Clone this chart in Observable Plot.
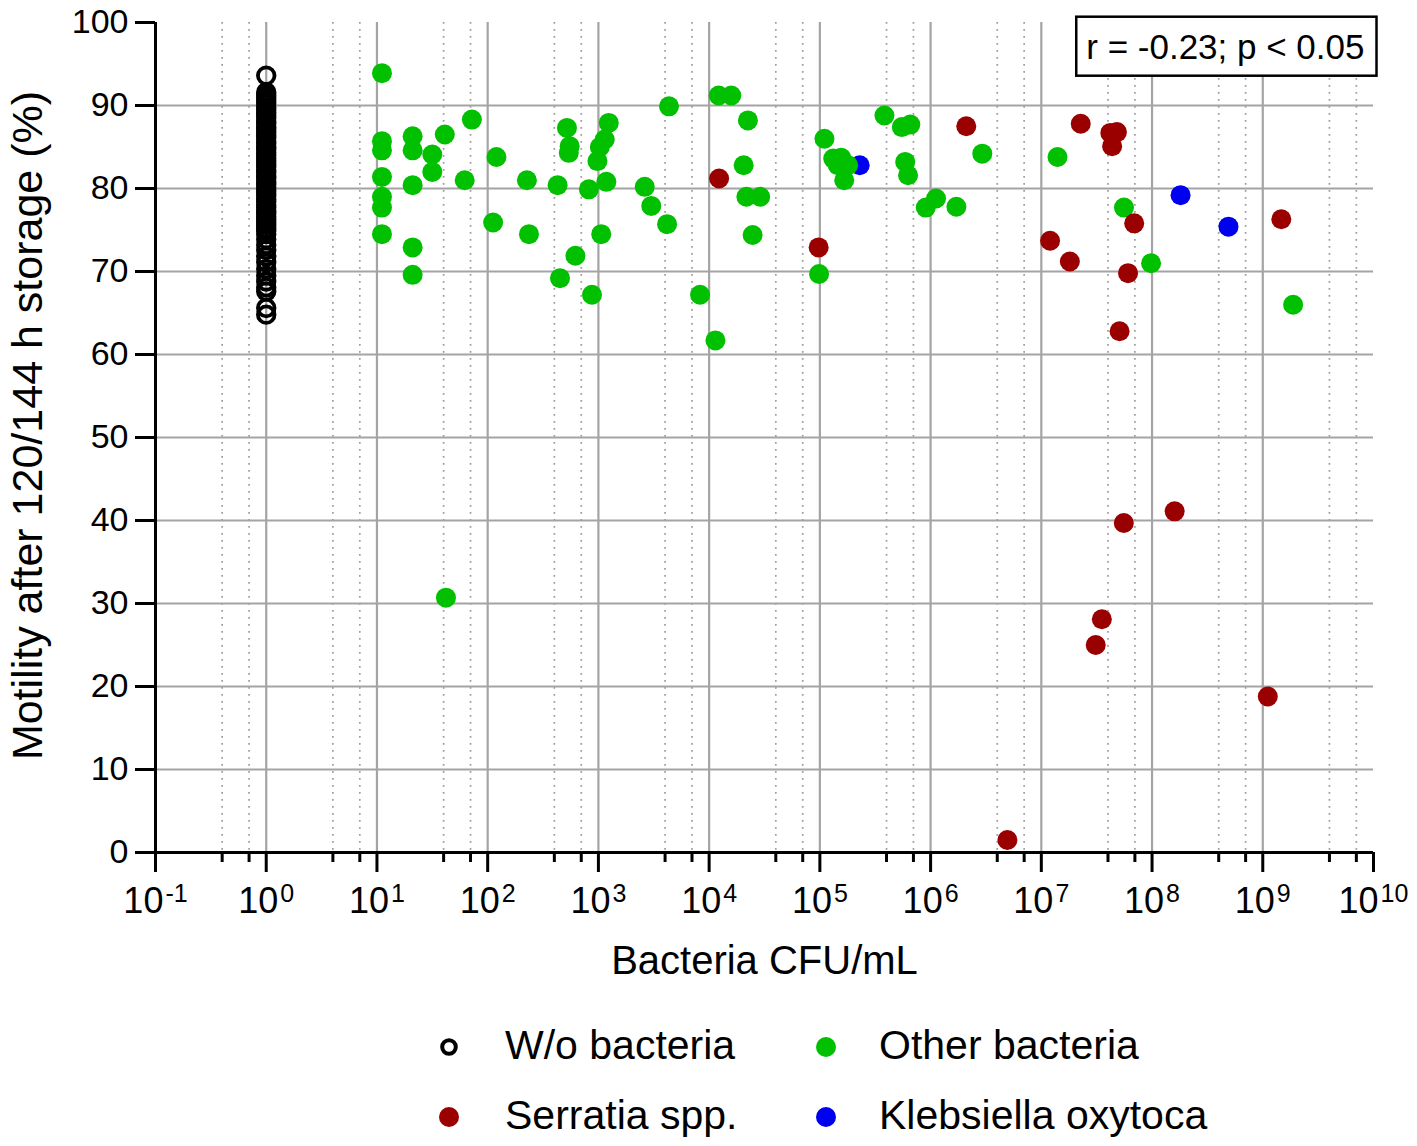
<!DOCTYPE html>
<html><head><meta charset="utf-8">
<script src="https://cdn.jsdelivr.net/npm/d3@7"></script>
<script src="https://cdn.jsdelivr.net/npm/@observablehq/plot@0.6"></script>
<style>
body{margin:0;background:#fff;font-family:"Liberation Sans",Arial,sans-serif;}
#wrap{position:relative;width:1417px;height:1146px;overflow:hidden;background:#fff;}
#legend{position:absolute;left:0;top:1000px;width:1417px;height:146px;}
.sw{position:absolute;}
.lt{position:absolute;font-size:41px;line-height:41px;color:#000;white-space:nowrap;}
</style></head><body><div id="wrap"><div id="chart"></div><div id="legend"></div></div>
<script>
// ---- data ----
const seriesNames = ["W/o bacteria", "Other bacteria", "Serratia spp.", "Klebsiella oxytoca"];
const seriesColors = ["#000000", "#00c000", "#9b0000", "#0000f0"];

// W/o bacteria: all plotted at 10^0 CFU/mL
const woCfu = 1;
const woMotility = [93.6, 91.6, 91.2, 90.9, 90.5, 90.2, 89.8, 89.5, 89.2, 88.8, 88.5, 88.1, 87.8, 87.4,
  87.1, 86.8, 86.4, 86.1, 85.7, 85.4, 85.0, 84.7, 84.3, 84.0, 83.6, 83.3, 82.9, 82.6, 82.2, 81.9, 81.5,
  81.2, 80.8, 80.5, 80.1, 79.8, 79.4, 79.1, 78.7, 78.4, 78.0, 77.7, 77.3, 77.0, 76.6, 76.3, 75.9, 75.6,
  75.2, 74.9, 74.5, 73.9, 73.2, 72.6, 71.8, 71.1, 70.3, 69.5, 68.8, 68.1, 67.6, 65.6, 64.8];

const otherCfu = [11.1, 11.1, 11.1, 11.1, 11.1, 11.1, 11.1, 21, 21, 21, 21, 21, 31.6, 31.6, 41, 42, 62, 72,
  112, 120, 226, 236, 428, 450, 520, 550, 540, 620, 820, 875, 980, 1030, 1060, 1140, 1180, 1240,
  2620, 3000, 4170, 4340, 8280, 11400, 12200, 15850, 20500, 21700, 22400, 24700, 28900,
  98400, 110000, 132000, 145000, 156000, 166000, 180000, 383000, 550000, 590000, 626000, 656000,
  905000, 1120000, 1710000, 2930000, 14000000, 55800000, 98000000, 1880000000];
const otherMotility = [93.9, 85.7, 84.6, 81.4, 79.0, 77.7, 74.5, 86.3, 84.6, 80.4, 72.9, 69.6, 84.1, 82.0, 86.5, 30.7, 81.0, 88.3,
  75.9, 83.8, 81.0, 74.5, 80.4, 69.2, 87.3, 85.1, 84.3, 71.9, 79.9, 67.2, 83.3, 85.0, 74.5, 85.9, 80.8, 87.9,
  80.2, 77.9, 75.7, 89.9, 67.2, 61.7, 91.2, 91.2, 82.8, 79.0, 88.2, 74.4, 79.0,
  69.7, 86.0, 83.6, 82.8, 83.7, 81.0, 82.8, 88.8, 87.4, 83.2, 81.6, 87.7,
  77.7, 78.8, 77.8, 84.2, 83.8, 77.7, 71.0, 66.0];

const serratiaCfu = [12300, 97500, 2100000, 4940000, 12000000, 18100000, 22700000, 31000000, 35200000,
  42000000, 43600000, 48200000, 50900000, 55600000, 60700000, 69000000, 160000000, 1110000000, 1470000000];
const serratiaMotility = [81.2, 72.9, 87.5, 1.5, 73.7, 71.2, 87.8, 25.0, 28.1,
  86.7, 85.1, 86.8, 62.8, 39.7, 69.8, 75.8, 41.1, 18.8, 76.3];

const klebsiellaCfu = [229000, 181000000, 490000000];
const klebsiellaMotility = [82.8, 79.2, 75.4];

// axis ticks
const xExponents = [-1, 0, 1, 2, 3, 4, 5, 6, 7, 8, 9, 10];
const minorMultipliers = [4, 7];
const yTicks = [0, 10, 20, 30, 40, 50, 60, 70, 80, 90, 100];
const yGrid = [10, 20, 30, 40, 50, 60, 70, 80, 90];
const xTitle = "Bacteria CFU/mL";
const yTitle = "Motility after 120/144 h storage (%)";
const statText = "r = -0.23; p < 0.05";

// ---- tables ----
const zip = (xs, ys) => xs.map((x, i) => ({cfu: x, motility: ys[i]}));
const woRows = woMotility.map(m => ({cfu: woCfu, motility: m}));
const otherRows = zip(otherCfu, otherMotility);
const serRows = zip(serratiaCfu, serratiaMotility);
const klebRows = zip(klebsiellaCfu, klebsiellaMotility);

const majorX = xExponents.map(e => 10 ** e);
const gridX = majorX.slice(1, -1);
const minorX = xExponents.slice(0, -1).flatMap(e => minorMultipliers.map(m => m * 10 ** e));

const FONT = '"Liberation Sans", Arial, sans-serif';
const MARK = "\u00A7"; // sentinel prefix for exponent labels

const plot = Plot.plot({
  width: 1417, height: 1000,
  marginLeft: 155, marginRight: 44, marginTop: 22, marginBottom: 148,
  style: {fontFamily: FONT, color: "#000", background: "#fff", overflow: "visible"},
  x: {type: "log", domain: [0.1, 1e10]},
  y: {domain: [0, 100]},
  marks: [
    Plot.ruleX(minorX, {stroke: "#9c9c9c", strokeWidth: 1.7, strokeDasharray: "1.7,5.3"}),
    Plot.ruleX(gridX, {stroke: "#a4a4a4", strokeWidth: 2.2}),
    Plot.ruleY(yGrid, {stroke: "#a4a4a4", strokeWidth: 2.2}),
    Plot.axisY(yTicks, {tickSize: 20, tickPadding: 7, strokeWidth: 3, fontSize: 34, label: null}),
    Plot.axisX(majorX, {tickSize: 20, strokeWidth: 3, tickFormat: () => "", label: null}),
    Plot.axisX(minorX, {tickSize: 10, strokeWidth: 3, tickFormat: () => "", label: null}),
    Plot.ruleX([0.1], {stroke: "#000", strokeWidth: 3}),
    Plot.ruleY([0], {stroke: "#000", strokeWidth: 3}),
    Plot.dot(woRows, {x: "cfu", y: "motility", r: 8.3, stroke: seriesColors[0], strokeWidth: 3.8, fill: "none"}),
    Plot.dot(klebRows, {x: "cfu", y: "motility", r: 10, fill: seriesColors[3]}),
    Plot.dot(otherRows, {x: "cfu", y: "motility", r: 10, fill: seriesColors[1]}),
    Plot.dot(serRows, {x: "cfu", y: "motility", r: 10, fill: seriesColors[2]}),
    Plot.text(xExponents, {x: e => 10 ** e, frameAnchor: "bottom", dy: 49, text: e => MARK + String(e),
      fontSize: 36, lineAnchor: "middle", textAnchor: "middle"}),
    Plot.text([xTitle], {frameAnchor: "bottom", dy: 109, fontSize: 40, lineAnchor: "middle", textAnchor: "middle"}),
    Plot.text([yTitle], {frameAnchor: "left", dx: -127, dy: -12, rotate: -90, fontSize: 43,
      textAnchor: "middle", lineAnchor: "middle"}),
    Plot.text([statText], {frameAnchor: "top-right", dx: -9, dy: 25, fontSize: 35,
      textAnchor: "end", lineAnchor: "middle"})
  ]
});
document.getElementById("chart").append(plot);

// superscript exponents on x tick labels
d3.select(plot).selectAll("text").each(function() {
  const s = this.textContent;
  if (s.startsWith(MARK)) {
    const e = s.slice(MARK.length);
    const t = d3.select(this);
    t.text(null);
    t.append("tspan").text("10");
    t.append("tspan").attr("font-size", 25).attr("dx", 2).attr("dy", -11).text(e);
  }
});

// box around the statistics label
const st = Array.from(plot.querySelectorAll("text")).find(t => t.textContent === statText);
if (st) {
  const sb = plot.getBoundingClientRect();
  const bb = st.getBoundingClientRect();
  const cy = bb.top - sb.top + bb.height / 2;
  const g = st.closest("g") && st.closest("g").parentNode === plot ? st.closest("g") : st;
  const rect = document.createElementNS("http://www.w3.org/2000/svg", "rect");
  rect.setAttribute("x", bb.left - sb.left - 10);
  rect.setAttribute("y", cy - 29.5);
  rect.setAttribute("width", bb.width + 22);
  rect.setAttribute("height", 59);
  rect.setAttribute("fill", "#fff");
  rect.setAttribute("stroke", "#000");
  rect.setAttribute("stroke-width", 2.5);
  g.parentNode.insertBefore(rect, g);
}

// legend
const legend = document.getElementById("legend");
const items = [
  {name: seriesNames[0], color: seriesColors[0], open: true, mx: 449, tx: 505, cy: 47},
  {name: seriesNames[1], color: seriesColors[1], open: false, mx: 826, tx: 879, cy: 47},
  {name: seriesNames[2], color: seriesColors[2], open: false, mx: 449, tx: 505, cy: 117},
  {name: seriesNames[3], color: seriesColors[3], open: false, mx: 826, tx: 879, cy: 117}
];
for (const it of items) {
  const s = d3.select(legend).append("svg").attr("class", "sw")
    .attr("width", 26).attr("height", 26)
    .style("left", (it.mx - 13) + "px").style("top", (it.cy - 13) + "px");
  if (it.open) s.append("circle").attr("cx", 13).attr("cy", 13).attr("r", 6.8)
    .attr("fill", "none").attr("stroke", it.color).attr("stroke-width", 4);
  else s.append("circle").attr("cx", 13).attr("cy", 13).attr("r", 10).attr("fill", it.color);
  const d = document.createElement("div");
  d.className = "lt";
  d.textContent = it.name;
  d.style.left = it.tx + "px";
  d.style.top = (it.cy - 22) + "px";
  legend.append(d);
}
</script></body></html>
